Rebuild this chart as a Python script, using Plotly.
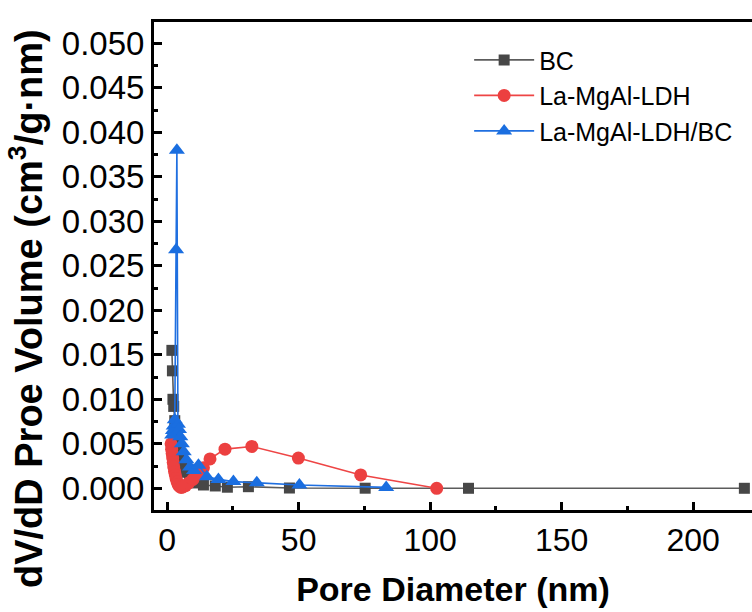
import plotly.graph_objects as go

# ---- data ----
bc_x = [1.8, 2.0, 2.2, 2.5, 2.9, 3.4, 4.0, 4.8, 5.8, 7.0, 8.5, 10.5, 13.8, 18.3, 22.9, 30.9, 46.5, 75.3, 114.6, 219.5]
bc_y = [0.0155, 0.0132, 0.0100, 0.0092, 0.0076, 0.0061, 0.0048, 0.0037, 0.0027, 0.0018, 0.0011, 0.0006, 0.00037, 0.00026, 0.00012, 0.00018, 0.00003, 0.00001, 0.0, 0.0]

ldh_x = [1.5, 1.7, 1.9, 2.1, 2.3, 2.5, 2.8, 3.1, 3.4, 3.8, 4.2, 4.7, 5.3, 6.0, 7.0, 8.2, 9.8, 11.6, 13.8, 16.3, 22.0, 32.2, 49.9, 73.6, 102.5]
ldh_y = [0.0050, 0.0044, 0.0039, 0.0034, 0.0029, 0.0024, 0.0019, 0.0015, 0.0011, 0.0007, 0.0004, 0.0002, 0.0001, 0.00015, 0.0003, 0.0006, 0.0010, 0.0016, 0.0023, 0.0033, 0.0044, 0.0047, 0.0034, 0.0015, 0.0]

ldhbc_x = [1.9, 2.2, 2.5, 2.9, 3.4, 3.7, 4.1, 4.5, 5.0, 5.6, 6.3, 7.3, 8.7, 10.2, 11.9, 15.1, 19.5, 25.2, 34.1, 50.3, 83.3]
ldhbc_y = [0.0060, 0.0065, 0.0070, 0.0077, 0.0268, 0.0380, 0.0072, 0.0066, 0.0058, 0.0050, 0.0041, 0.0032, 0.0024, 0.0020, 0.0026, 0.0013, 0.0010, 0.00075, 0.00063, 0.00037, 0.0001]

x_ticks = [0, 50, 100, 150, 200]
y_ticks = [0.000, 0.005, 0.010, 0.015, 0.020, 0.025, 0.030, 0.035, 0.040, 0.045, 0.050]
y_tick_text = ["%.3f" % v for v in y_ticks]

FONT = "Liberation Sans, Arial, sans-serif"

fig = go.Figure()
fig.add_trace(go.Scatter(
    x=bc_x, y=bc_y, name="BC", mode="lines+markers",
    line=dict(color="#5c5c5c", width=1.6),
    marker=dict(symbol="square", size=11, color="#474747"),
))
fig.add_trace(go.Scatter(
    x=ldh_x, y=ldh_y, name="La-MgAl-LDH", mode="lines+markers",
    line=dict(color="#ee4545", width=1.6),
    marker=dict(symbol="circle", size=13, color="#ec4040"),
))
fig.add_trace(go.Scatter(
    x=ldhbc_x, y=ldhbc_y, name="La-MgAl-LDH/BC", mode="lines+markers",
    line=dict(color="#1f6fe0", width=1.6),
    marker=dict(symbol="triangle-up", size=14, color="#1a6ee0"),
))

fig.update_layout(
    width=752, height=612,
    margin=dict(l=154, r=0, t=22, b=102),
    paper_bgcolor="white", plot_bgcolor="white",
    font=dict(family=FONT, color="black"),
    showlegend=True,
    legend=dict(
        x=0.527, y=0.969, xanchor="left", yanchor="top",
        font=dict(size=25, family=FONT, color="black"),
        bgcolor="rgba(0,0,0,0)", itemwidth=60, tracegroupgap=0,
    ),
    xaxis=dict(
        range=[-5, 222.4], tickvals=x_ticks, ticks="inside", ticklen=8, tickwidth=2.5,
        tickcolor="black", showline=True, linecolor="black", linewidth=3, mirror=True,
        showgrid=False, zeroline=False,
        tickfont=dict(size=32, family=FONT),
        minor=dict(dtick=25, ticks="inside", ticklen=4, tickwidth=2.5, tickcolor="black", showgrid=False),
        title=dict(text="<b>Pore Diameter (nm)</b>", font=dict(size=34, family=FONT), standoff=20),
    ),
    yaxis=dict(
        range=[-0.00244, 0.0524], tickvals=y_ticks, ticktext=y_tick_text, ticks="inside",
        ticklen=8, tickwidth=2.5, tickcolor="black", showline=True, linecolor="black",
        linewidth=3, mirror=False, showgrid=False, zeroline=False,
        tickfont=dict(size=33, family=FONT),
        minor=dict(dtick=0.0025, ticks="inside", ticklen=4, tickwidth=2.5, tickcolor="black", showgrid=False),
    ),
    annotations=[dict(
        text="<b>dV/dD Proe Volume (cm<sup>3</sup>/g·nm)</b>",
        xref="paper", yref="paper", x=-0.213, y=0.413,
        xanchor="center", yanchor="middle", textangle=-90, showarrow=False,
        font=dict(size=38, family=FONT, color="black"),
    )],
)

fig.write_html("out.html")
